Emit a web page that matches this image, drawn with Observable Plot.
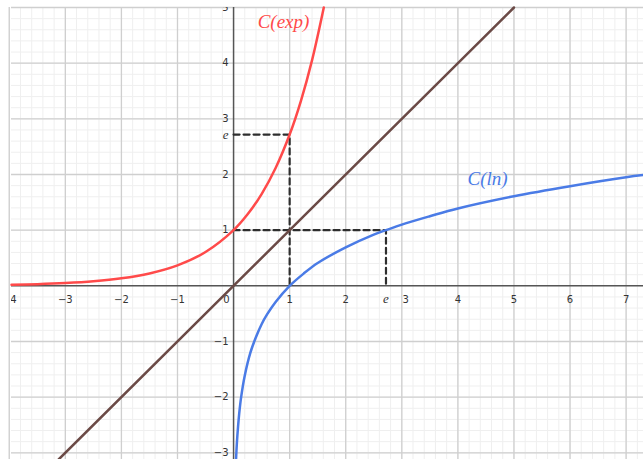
<!DOCTYPE html>
<html><head><meta charset="utf-8">
<script src="https://cdn.jsdelivr.net/npm/d3@7"></script>
<script src="https://cdn.jsdelivr.net/npm/@observablehq/plot@0.6"></script>
<style>body{margin:0;background:#fff}</style>
</head><body><div id="chart"></div>
<script>
const E = 2.718;
const xTicks = [-4, -3, -2, -1, 1, 2, 4, 5, 6, 7];
const xTickShifted = [3];
const yTicks = [-3, -2, -1, 1, 2, 3, 4, 5];
const xMinor = d3.range(-4, 7.41, 0.2);
const yMinor = d3.range(-3.2, 5.01, 0.2);

// C(exp) samples
const expX = [-3.96, -3.5, -3, -2.5, -2, -1.5, -1, -0.5, 0, 0.25, 0.5, 0.75, 1, 1.2, 1.4, 1.609];
const expY = [0.019, 0.030, 0.050, 0.082, 0.135, 0.223, 0.368, 0.607, 1, 1.284, 1.649, 2.117, 2.718, 3.320, 4.055, 5.0];
// C(ln) samples
const lnX = [0.044, 0.06, 0.08, 0.1, 0.135, 0.2, 0.3, 0.4, 0.5, 0.6, 0.75, 1, 1.25, 1.5, 2, 2.5, 2.718, 3, 3.5, 4, 5, 6, 7, 7.31];
const lnY = [-3.12, -2.81, -2.53, -2.30, -2.00, -1.61, -1.20, -0.92, -0.69, -0.51, -0.29, 0, 0.22, 0.41, 0.69, 0.92, 1, 1.10, 1.25, 1.39, 1.61, 1.79, 1.95, 1.99];
// y = x
const idX = [-3.12, 5];
const idY = [-3.12, 5];
// dashed guides
const dash1 = [[0, E], [1, E], [1, 0]];
const dash2 = [[0, 1], [E, 1], [E, 0]];

const expPts = expX.map((x, i) => ({x, y: expY[i]}));
const lnPts = lnX.map((x, i) => ({x, y: lnY[i]}));
const idPts = idX.map((x, i) => ({x, y: idY[i]}));
const fmt = d => d < 0 ? "\u2212" + Math.abs(d) : String(d);

const labelFont = "DejaVu Sans, sans-serif";
const serif = "Liberation Serif, serif";
const chart = Plot.plot({
  width: 643, height: 459,
  marginLeft: 11, marginTop: 7, marginRight: 0, marginBottom: 0,
  x: {domain: [-3.96, 7.31], axis: null},
  y: {domain: [-3.12, 5], axis: null},
  style: {background: "white", overflow: "hidden"},
  marks: [
    Plot.ruleX(xMinor, {stroke: "#efefef", strokeWidth: 1}),
    Plot.ruleY(yMinor, {stroke: "#efefef", strokeWidth: 1}),
    Plot.ruleX(xTicks.concat(xTickShifted), {stroke: "#cfcfcf", strokeWidth: 1.3}),
    Plot.ruleY(yTicks, {stroke: "#cfcfcf", strokeWidth: 1.3}),
    Plot.ruleX([0], {stroke: "#555", strokeWidth: 1.5}),
    Plot.ruleY([0], {stroke: "#555", strokeWidth: 1.5}),
    Plot.text(xTicks, {x: d => d, y: () => 0, text: d => fmt(d), dy: 14, fontSize: 10, fill: "#333", fontFamily: labelFont, clip: true}),
    Plot.text(xTickShifted, {x: d => d, y: () => 0, text: d => fmt(d), dy: 14, dx: 4, fontSize: 10, fill: "#333", fontFamily: labelFont}),
    Plot.text(yTicks, {x: () => 0, y: d => d, text: d => fmt(d), dx: -5, textAnchor: "end", fontSize: 10, fill: "#333", fontFamily: labelFont, clip: true}),
    Plot.text([0], {x: () => 0, y: () => 0, text: () => "0", dx: -4, dy: 14, textAnchor: "end", fontSize: 10, fill: "#333", fontFamily: labelFont}),
    Plot.text([E], {x: d => d, y: () => 0, text: () => "e", dy: 13, fontSize: 13, fontStyle: "italic", fill: "#333", fontFamily: serif}),
    Plot.text([E], {x: () => 0, y: d => d, text: () => "e", dx: -5, textAnchor: "end", fontSize: 13, fontStyle: "italic", fill: "#333", fontFamily: serif}),
    Plot.line(dash1, {x: d => d[0], y: d => d[1], stroke: "#2e2e2e", strokeWidth: 2.2, strokeDasharray: "6 4"}),
    Plot.line(dash2, {x: d => d[0], y: d => d[1], stroke: "#2e2e2e", strokeWidth: 2.2, strokeDasharray: "6 4"}),
    Plot.line(idPts, {x: "x", y: "y", stroke: "#6b4a46", strokeWidth: 2.5}),
    Plot.line(expPts, {x: "x", y: "y", stroke: "#ff4a4a", strokeWidth: 2.5, curve: "catmull-rom"}),
    Plot.line(lnPts, {x: "x", y: "y", stroke: "#4a7be6", strokeWidth: 2.5, curve: "catmull-rom"}),
    Plot.text([{x: 0.89, y: 4.75}], {x: "x", y: "y", text: () => "C(exp)", fill: "#ff4a4a", fontSize: 19, fontStyle: "italic", fontFamily: serif}),
    Plot.text([{x: 4.53, y: 1.92}], {x: "x", y: "y", text: () => "C(ln)", fill: "#4a7be6", fontSize: 19, fontStyle: "italic", fontFamily: serif})
  ]
});
document.getElementById("chart").append(chart);
</script>
</body></html>
